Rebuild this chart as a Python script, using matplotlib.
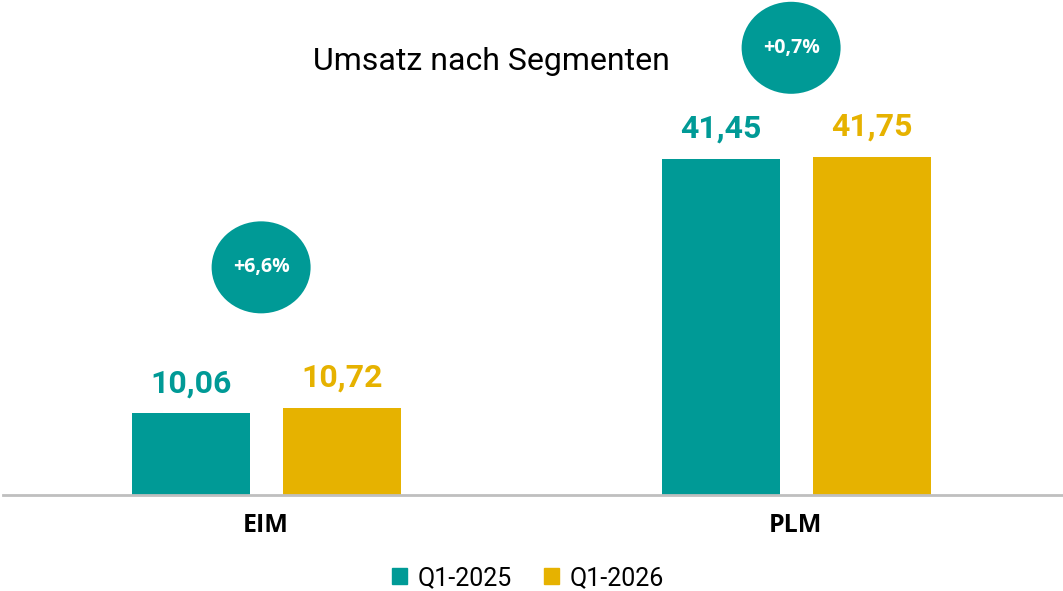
import matplotlib
matplotlib.use("Agg")
import matplotlib.pyplot as plt
from matplotlib.patches import Ellipse, Patch
import numpy as np

segments = ["EIM", "PLM"]
series = ["Q1-2025", "Q1-2026"]
q1_2025 = [10.06, 41.45]
q1_2026 = [10.72, 41.75]
growth = ["+6,6%", "+0,7%"]
bubble_y = [28.1, 55.2]

teal = "#009a96"
gold = "#e6b200"

fig = plt.figure(figsize=(10.63, 5.91), dpi=100)
ax = fig.add_axes([3 / 1063, 96 / 591, 1060 / 1063, 495 / 591])

x = np.arange(len(segments))
w = 0.223
b1 = ax.bar(x - 0.142, q1_2025, w, color=teal)
b2 = ax.bar(x + 0.143, q1_2026, w, color=gold)

ax.set_xlim(-0.496, 1.504)
ax.set_ylim(0, 61.1)

for bars, vals, col in [(b1, q1_2025, teal), (b2, q1_2026, gold)]:
    for r, v in zip(bars, vals):
        ax.annotate(f"{v:.2f}".replace(".", ","),
                    (r.get_x() + r.get_width() / 2, v),
                    xytext=(0, 11), textcoords="offset points",
                    ha="center", va="bottom", color=col,
                    fontsize=23, fontweight="bold", family="Roboto")

for xi, yb, g in zip(x, bubble_y, growth):
    ax.add_patch(Ellipse((xi - 0.009, yb), 99 / 530, 92 / 8.1, color=teal, lw=0))
    ax.text(xi - 0.009, yb, g, ha="center", va="center", color="white",
            fontsize=14, fontweight="bold", family="Open Sans")

for s in ["top", "right", "left"]:
    ax.spines[s].set_visible(False)
ax.spines["bottom"].set_color("#bfbfbf")
ax.spines["bottom"].set_linewidth(2)
ax.set_yticks([])
ax.set_xticks(x)
ax.set_xticklabels(segments, fontsize=18, fontweight="bold", family="Open Sans")
ax.tick_params(axis="x", length=0, pad=13)

fig.text(491 / 1063, 1 - 61 / 591, "Umsatz nach Segmenten", ha="center", va="center",
         fontsize=23, family="Roboto")

handles = [Patch(color=teal), Patch(color=gold)]
fig.legend(handles, series, loc="center", bbox_to_anchor=(528 / 1063, 1 - 578 / 591),
           ncol=2, frameon=False, handlelength=0.6, handleheight=0.6, handletextpad=0.4,
           columnspacing=1.3, prop={"family": "Roboto", "size": 18})

fig.savefig("out.png", dpi=100)
